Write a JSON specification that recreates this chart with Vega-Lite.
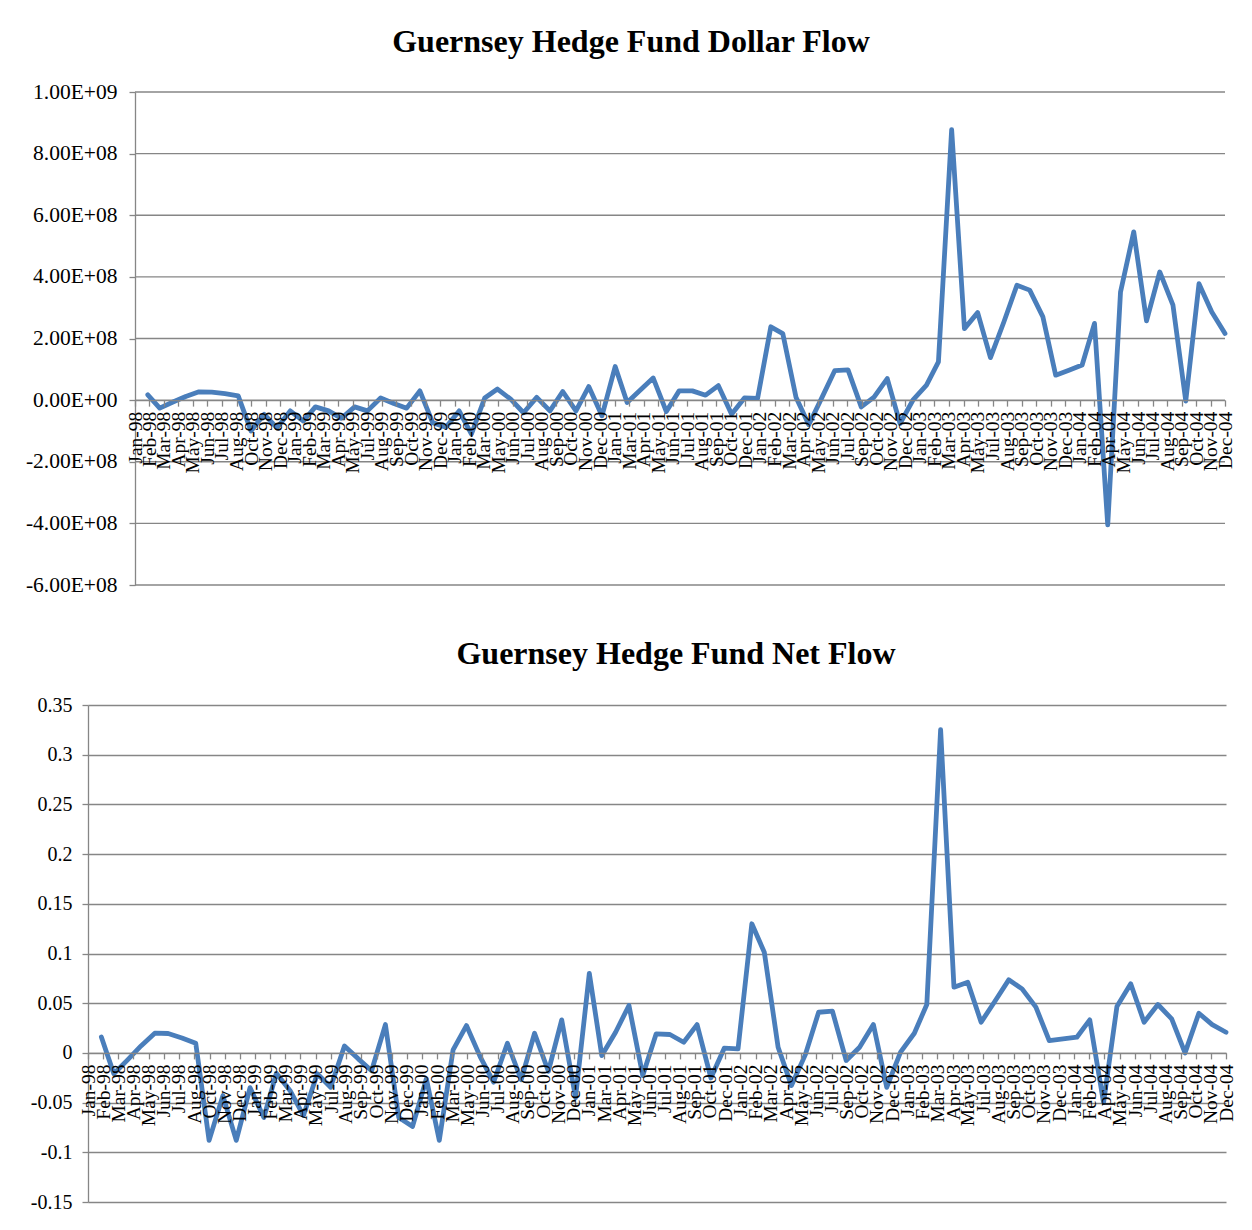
{
"$schema": "https://vega.github.io/schema/vega-lite/v6.json",
"background": "white",
"padding": {"left": 25, "top": 26, "right": 0, "bottom": 0},
"data": {"values": [
{"date":"1998-01-31","dollar":17000000,"net":0.016},
{"date":"1998-02-28","dollar":-26000000,"net":-0.021},
{"date":"1998-03-31","dollar":-6000000,"net":-0.007},
{"date":"1998-04-30","dollar":12000000,"net":0.007},
{"date":"1998-05-31","dollar":27000000,"net":0.0198},
{"date":"1998-06-30","dollar":26000000,"net":0.0195},
{"date":"1998-07-31","dollar":21000000,"net":0.015},
{"date":"1998-08-31","dollar":14000000,"net":0.0097},
{"date":"1998-09-30","dollar":-100000000,"net":-0.088},
{"date":"1998-10-31","dollar":-46000000,"net":-0.043},
{"date":"1998-11-30","dollar":-90000000,"net":-0.088},
{"date":"1998-12-31","dollar":-35000000,"net":-0.035},
{"date":"1999-01-31","dollar":-68000000,"net":-0.065},
{"date":"1999-02-28","dollar":-22000000,"net":-0.0205},
{"date":"1999-03-31","dollar":-35000000,"net":-0.038},
{"date":"1999-04-30","dollar":-59000000,"net":-0.063},
{"date":"1999-05-31","dollar":-22000000,"net":-0.021},
{"date":"1999-06-30","dollar":-35000000,"net":-0.0346},
{"date":"1999-07-31","dollar":7000000,"net":0.007},
{"date":"1999-08-31","dollar":-11000000,"net":-0.006},
{"date":"1999-09-30","dollar":-26000000,"net":-0.018},
{"date":"1999-10-31","dollar":30000000,"net":0.0285},
{"date":"1999-11-30","dollar":-73000000,"net":-0.065},
{"date":"1999-12-31","dollar":-88000000,"net":-0.074},
{"date":"2000-01-31","dollar":-35000000,"net":-0.026},
{"date":"2000-02-29","dollar":-110000000,"net":-0.088},
{"date":"2000-03-31","dollar":7000000,"net":0.003},
{"date":"2000-04-30","dollar":36000000,"net":0.0275},
{"date":"2000-05-31","dollar":3000000,"net":-0.004},
{"date":"2000-06-30","dollar":-41000000,"net":-0.0295},
{"date":"2000-07-31","dollar":9000000,"net":0.0097},
{"date":"2000-08-31","dollar":-35000000,"net":-0.027},
{"date":"2000-09-30","dollar":28000000,"net":0.0198},
{"date":"2000-10-31","dollar":-35000000,"net":-0.0185},
{"date":"2000-11-30","dollar":44000000,"net":0.0332},
{"date":"2000-12-31","dollar":-51000000,"net":-0.045},
{"date":"2001-01-31","dollar":109000000,"net":0.080},
{"date":"2001-02-28","dollar":-8000000,"net":-0.0027},
{"date":"2001-03-31","dollar":33000000,"net":0.0208},
{"date":"2001-04-30","dollar":72000000,"net":0.0477},
{"date":"2001-05-31","dollar":-37000000,"net":-0.0228},
{"date":"2001-06-30","dollar":30000000,"net":0.0191},
{"date":"2001-07-31","dollar":30000000,"net":0.0185},
{"date":"2001-08-31","dollar":16000000,"net":0.0107},
{"date":"2001-09-30","dollar":47000000,"net":0.0285},
{"date":"2001-10-31","dollar":-46000000,"net":-0.0252},
{"date":"2001-11-30","dollar":7000000,"net":0.0047},
{"date":"2001-12-31","dollar":6000000,"net":0.004},
{"date":"2002-01-31","dollar":238000000,"net":0.1299},
{"date":"2002-02-28","dollar":216000000,"net":0.1013},
{"date":"2002-03-31","dollar":9000000,"net":0.0057},
{"date":"2002-04-30","dollar":-80000000,"net":-0.0329},
{"date":"2002-05-31","dollar":9000000,"net":-0.002},
{"date":"2002-06-30","dollar":96000000,"net":0.0409},
{"date":"2002-07-31","dollar":98000000,"net":0.042},
{"date":"2002-08-31","dollar":-22000000,"net":-0.0077},
{"date":"2002-09-30","dollar":10000000,"net":0.0057},
{"date":"2002-10-31","dollar":70000000,"net":0.0285},
{"date":"2002-11-30","dollar":-76000000,"net":-0.0346},
{"date":"2002-12-31","dollar":2000000,"net":0.0007},
{"date":"2003-01-31","dollar":49000000,"net":0.0198},
{"date":"2003-02-28","dollar":124000000,"net":0.0487},
{"date":"2003-03-31","dollar":878000000,"net":0.3252},
{"date":"2003-04-30","dollar":232000000,"net":0.0661},
{"date":"2003-05-31","dollar":284000000,"net":0.0711},
{"date":"2003-06-30","dollar":138000000,"net":0.0309},
{"date":"2003-07-31","dollar":252000000,"net":0.052},
{"date":"2003-08-31","dollar":373000000,"net":0.0735},
{"date":"2003-09-30","dollar":357000000,"net":0.0644},
{"date":"2003-10-31","dollar":270000000,"net":0.046},
{"date":"2003-11-30","dollar":81000000,"net":0.0124},
{"date":"2003-12-31","dollar":97000000,"net":0.0141},
{"date":"2004-01-31","dollar":114000000,"net":0.0158},
{"date":"2004-02-29","dollar":249000000,"net":0.0332},
{"date":"2004-03-31","dollar":-405000000,"net":-0.05},
{"date":"2004-04-30","dollar":351000000,"net":0.0466},
{"date":"2004-05-31","dollar":546000000,"net":0.0695},
{"date":"2004-06-30","dollar":257000000,"net":0.0309},
{"date":"2004-07-31","dollar":416000000,"net":0.0487},
{"date":"2004-08-31","dollar":308000000,"net":0.0342},
{"date":"2004-09-30","dollar":-3000000,"net":0.0},
{"date":"2004-10-31","dollar":378000000,"net":0.0399},
{"date":"2004-11-30","dollar":286000000,"net":0.0285},
{"date":"2004-12-31","dollar":216000000,"net":0.0208}
]},
"spacing": 42,
"vconcat": [
{
"width": 1138, "height": 493,
"title": {"text": "Guernsey Hedge Fund Dollar Flow", "font": "Liberation Serif", "fontSize": 32, "fontWeight": "bold", "color": "black", "anchor": "middle", "frame": "group", "dx": -26, "offset": 22},
"layer": [
{
"data": {"values": [{"g":-600000000},{"g":-400000000},{"g":-200000000},{"g":0},{"g":200000000},{"g":400000000},{"g":600000000},{"g":800000000},{"g":1000000000}]},
"mark": {"type": "rule", "color": "#868686", "strokeWidth": 1.3},
"encoding": {
"y": {"field": "g", "type": "quantitative", "title": null},
"x": {"datum": {"year":1998,"month":1,"date":1,"utc":true}, "type": "temporal", "title": null,
"axis": {"title": null, "labelExpr": "utcFormat(datum.value, '%b-%y')", "offset": -184.875, "zindex": 1, "labelOverlap": false, "labelSeparation": 0, "labelFlush": false, "labelBound": false,
"values": [
{"year":1998,"month":1,"date":1,"utc":true},{"year":1998,"month":2,"date":4,"utc":true},{"year":1998,"month":3,"date":10,"utc":true},{"year":1998,"month":4,"date":13,"utc":true},{"year":1998,"month":5,"date":17,"utc":true},{"year":1998,"month":6,"date":20,"utc":true},{"year":1998,"month":7,"date":24,"utc":true},{"year":1998,"month":8,"date":28,"utc":true},{"year":1998,"month":10,"date":1,"utc":true},{"year":1998,"month":11,"date":4,"utc":true},{"year":1998,"month":12,"date":8,"utc":true},
{"year":1999,"month":1,"date":11,"utc":true},{"year":1999,"month":2,"date":14,"utc":true},{"year":1999,"month":3,"date":20,"utc":true},{"year":1999,"month":4,"date":23,"utc":true},{"year":1999,"month":5,"date":27,"utc":true},{"year":1999,"month":7,"date":1,"utc":true},{"year":1999,"month":8,"date":3,"utc":true},{"year":1999,"month":9,"date":6,"utc":true},{"year":1999,"month":10,"date":11,"utc":true},{"year":1999,"month":11,"date":14,"utc":true},{"year":1999,"month":12,"date":18,"utc":true},
{"year":2000,"month":1,"date":21,"utc":true},{"year":2000,"month":2,"date":24,"utc":true},{"year":2000,"month":3,"date":29,"utc":true},{"year":2000,"month":5,"date":2,"utc":true},{"year":2000,"month":6,"date":5,"utc":true},{"year":2000,"month":7,"date":9,"utc":true},{"year":2000,"month":8,"date":12,"utc":true},{"year":2000,"month":9,"date":15,"utc":true},{"year":2000,"month":10,"date":19,"utc":true},{"year":2000,"month":11,"date":22,"utc":true},{"year":2000,"month":12,"date":27,"utc":true},
{"year":2001,"month":1,"date":30,"utc":true},{"year":2001,"month":3,"date":5,"utc":true},{"year":2001,"month":4,"date":8,"utc":true},{"year":2001,"month":5,"date":12,"utc":true},{"year":2001,"month":6,"date":15,"utc":true},{"year":2001,"month":7,"date":19,"utc":true},{"year":2001,"month":8,"date":22,"utc":true},{"year":2001,"month":9,"date":25,"utc":true},{"year":2001,"month":10,"date":29,"utc":true},{"year":2001,"month":12,"date":2,"utc":true},
{"year":2002,"month":1,"date":5,"utc":true},{"year":2002,"month":2,"date":9,"utc":true},{"year":2002,"month":3,"date":15,"utc":true},{"year":2002,"month":4,"date":18,"utc":true},{"year":2002,"month":5,"date":22,"utc":true},{"year":2002,"month":6,"date":25,"utc":true},{"year":2002,"month":7,"date":29,"utc":true},{"year":2002,"month":9,"date":1,"utc":true},{"year":2002,"month":10,"date":5,"utc":true},{"year":2002,"month":11,"date":8,"utc":true},{"year":2002,"month":12,"date":12,"utc":true},
{"year":2003,"month":1,"date":15,"utc":true},{"year":2003,"month":2,"date":18,"utc":true},{"year":2003,"month":3,"date":24,"utc":true},{"year":2003,"month":4,"date":28,"utc":true},{"year":2003,"month":5,"date":31,"utc":true},{"year":2003,"month":7,"date":5,"utc":true},{"year":2003,"month":8,"date":8,"utc":true},{"year":2003,"month":9,"date":11,"utc":true},{"year":2003,"month":10,"date":15,"utc":true},{"year":2003,"month":11,"date":18,"utc":true},{"year":2003,"month":12,"date":22,"utc":true},
{"year":2004,"month":1,"date":25,"utc":true},{"year":2004,"month":2,"date":28,"utc":true},{"year":2004,"month":4,"date":2,"utc":true},{"year":2004,"month":5,"date":6,"utc":true},{"year":2004,"month":6,"date":10,"utc":true},{"year":2004,"month":7,"date":14,"utc":true},{"year":2004,"month":8,"date":17,"utc":true},{"year":2004,"month":9,"date":20,"utc":true},{"year":2004,"month":10,"date":24,"utc":true},{"year":2004,"month":11,"date":27,"utc":true},{"year":2004,"month":12,"date":31,"utc":true}
]}},
"x2": {"datum": {"year":2004,"month":12,"date":31,"utc":true}}
}
},
{
"mark": {"type": "line", "color": "#4A7EBB", "strokeWidth": 4.8, "strokeJoin": "round", "strokeCap": "round"},
"encoding": {
"x": {"field": "date", "type": "temporal", "title": null,
"scale": {"type": "utc", "domain": [{"year":1998,"month":1,"date":1,"utc":true},{"year":2004,"month":12,"date":31,"utc":true}], "range": [47, 1137]},
"axis": {"title": null, "labelExpr": "utcFormat(datum.value, '%b-%y')", "offset": -184.875, "zindex": 1, "labelOverlap": false, "labelSeparation": 0, "labelFlush": false, "labelBound": false,
"values": [
{"year":1998,"month":1,"date":1,"utc":true},{"year":1998,"month":2,"date":4,"utc":true},{"year":1998,"month":3,"date":10,"utc":true},{"year":1998,"month":4,"date":13,"utc":true},{"year":1998,"month":5,"date":17,"utc":true},{"year":1998,"month":6,"date":20,"utc":true},{"year":1998,"month":7,"date":24,"utc":true},{"year":1998,"month":8,"date":28,"utc":true},{"year":1998,"month":10,"date":1,"utc":true},{"year":1998,"month":11,"date":4,"utc":true},{"year":1998,"month":12,"date":8,"utc":true},
{"year":1999,"month":1,"date":11,"utc":true},{"year":1999,"month":2,"date":14,"utc":true},{"year":1999,"month":3,"date":20,"utc":true},{"year":1999,"month":4,"date":23,"utc":true},{"year":1999,"month":5,"date":27,"utc":true},{"year":1999,"month":7,"date":1,"utc":true},{"year":1999,"month":8,"date":3,"utc":true},{"year":1999,"month":9,"date":6,"utc":true},{"year":1999,"month":10,"date":11,"utc":true},{"year":1999,"month":11,"date":14,"utc":true},{"year":1999,"month":12,"date":18,"utc":true},
{"year":2000,"month":1,"date":21,"utc":true},{"year":2000,"month":2,"date":24,"utc":true},{"year":2000,"month":3,"date":29,"utc":true},{"year":2000,"month":5,"date":2,"utc":true},{"year":2000,"month":6,"date":5,"utc":true},{"year":2000,"month":7,"date":9,"utc":true},{"year":2000,"month":8,"date":12,"utc":true},{"year":2000,"month":9,"date":15,"utc":true},{"year":2000,"month":10,"date":19,"utc":true},{"year":2000,"month":11,"date":22,"utc":true},{"year":2000,"month":12,"date":27,"utc":true},
{"year":2001,"month":1,"date":30,"utc":true},{"year":2001,"month":3,"date":5,"utc":true},{"year":2001,"month":4,"date":8,"utc":true},{"year":2001,"month":5,"date":12,"utc":true},{"year":2001,"month":6,"date":15,"utc":true},{"year":2001,"month":7,"date":19,"utc":true},{"year":2001,"month":8,"date":22,"utc":true},{"year":2001,"month":9,"date":25,"utc":true},{"year":2001,"month":10,"date":29,"utc":true},{"year":2001,"month":12,"date":2,"utc":true},
{"year":2002,"month":1,"date":5,"utc":true},{"year":2002,"month":2,"date":9,"utc":true},{"year":2002,"month":3,"date":15,"utc":true},{"year":2002,"month":4,"date":18,"utc":true},{"year":2002,"month":5,"date":22,"utc":true},{"year":2002,"month":6,"date":25,"utc":true},{"year":2002,"month":7,"date":29,"utc":true},{"year":2002,"month":9,"date":1,"utc":true},{"year":2002,"month":10,"date":5,"utc":true},{"year":2002,"month":11,"date":8,"utc":true},{"year":2002,"month":12,"date":12,"utc":true},
{"year":2003,"month":1,"date":15,"utc":true},{"year":2003,"month":2,"date":18,"utc":true},{"year":2003,"month":3,"date":24,"utc":true},{"year":2003,"month":4,"date":28,"utc":true},{"year":2003,"month":5,"date":31,"utc":true},{"year":2003,"month":7,"date":5,"utc":true},{"year":2003,"month":8,"date":8,"utc":true},{"year":2003,"month":9,"date":11,"utc":true},{"year":2003,"month":10,"date":15,"utc":true},{"year":2003,"month":11,"date":18,"utc":true},{"year":2003,"month":12,"date":22,"utc":true},
{"year":2004,"month":1,"date":25,"utc":true},{"year":2004,"month":2,"date":28,"utc":true},{"year":2004,"month":4,"date":2,"utc":true},{"year":2004,"month":5,"date":6,"utc":true},{"year":2004,"month":6,"date":10,"utc":true},{"year":2004,"month":7,"date":14,"utc":true},{"year":2004,"month":8,"date":17,"utc":true},{"year":2004,"month":9,"date":20,"utc":true},{"year":2004,"month":10,"date":24,"utc":true},{"year":2004,"month":11,"date":27,"utc":true},{"year":2004,"month":12,"date":31,"utc":true}
]}},
"y": {"field": "dollar", "type": "quantitative", "title": null,
"scale": {"domain": [-600000000, 1000000000], "nice": false, "zero": false},
"axis": {"title": null, "grid": false, "offset": -47, "values": [-600000000,-400000000,-200000000,0,200000000,400000000,600000000,800000000,1000000000], "labelExpr": "replace(replace(format(datum.value, '.2e'), 'e+', 'E+0'), '\u2212', '-')", "labelPadding": 12, "labelFontSize": 21.5}}
}
}
]
},
{
"width": 1138, "height": 497,
"title": {"text": "Guernsey Hedge Fund Net Flow", "font": "Liberation Serif", "fontSize": 32, "fontWeight": "bold", "color": "black", "anchor": "middle", "frame": "group", "dx": 19, "offset": 24},
"mark": {"type": "line", "color": "#4A7EBB", "strokeWidth": 4.8, "strokeJoin": "round", "strokeCap": "round"},
"encoding": {
"x": {"field": "date", "type": "temporal",
"scale": {"type": "utc", "domain": [{"year":1998,"month":1,"date":1,"utc":true},{"year":2004,"month":12,"date":31,"utc":true}]},
"axis": {"title": null, "labelExpr": "utcFormat(datum.value, '%b-%y')", "offset": -149.1, "zindex": 1, "labelOverlap": false, "labelSeparation": 0,
"values": [
{"year":1998,"month":1,"date":1,"utc":true},{"year":1998,"month":2,"date":4,"utc":true},{"year":1998,"month":3,"date":10,"utc":true},{"year":1998,"month":4,"date":13,"utc":true},{"year":1998,"month":5,"date":17,"utc":true},{"year":1998,"month":6,"date":20,"utc":true},{"year":1998,"month":7,"date":24,"utc":true},{"year":1998,"month":8,"date":28,"utc":true},{"year":1998,"month":10,"date":1,"utc":true},{"year":1998,"month":11,"date":4,"utc":true},{"year":1998,"month":12,"date":8,"utc":true},
{"year":1999,"month":1,"date":11,"utc":true},{"year":1999,"month":2,"date":14,"utc":true},{"year":1999,"month":3,"date":20,"utc":true},{"year":1999,"month":4,"date":23,"utc":true},{"year":1999,"month":5,"date":27,"utc":true},{"year":1999,"month":7,"date":1,"utc":true},{"year":1999,"month":8,"date":3,"utc":true},{"year":1999,"month":9,"date":6,"utc":true},{"year":1999,"month":10,"date":11,"utc":true},{"year":1999,"month":11,"date":14,"utc":true},{"year":1999,"month":12,"date":18,"utc":true},
{"year":2000,"month":1,"date":21,"utc":true},{"year":2000,"month":2,"date":24,"utc":true},{"year":2000,"month":3,"date":29,"utc":true},{"year":2000,"month":5,"date":2,"utc":true},{"year":2000,"month":6,"date":5,"utc":true},{"year":2000,"month":7,"date":9,"utc":true},{"year":2000,"month":8,"date":12,"utc":true},{"year":2000,"month":9,"date":15,"utc":true},{"year":2000,"month":10,"date":19,"utc":true},{"year":2000,"month":11,"date":22,"utc":true},{"year":2000,"month":12,"date":27,"utc":true},
{"year":2001,"month":1,"date":30,"utc":true},{"year":2001,"month":3,"date":5,"utc":true},{"year":2001,"month":4,"date":8,"utc":true},{"year":2001,"month":5,"date":12,"utc":true},{"year":2001,"month":6,"date":15,"utc":true},{"year":2001,"month":7,"date":19,"utc":true},{"year":2001,"month":8,"date":22,"utc":true},{"year":2001,"month":9,"date":25,"utc":true},{"year":2001,"month":10,"date":29,"utc":true},{"year":2001,"month":12,"date":2,"utc":true},
{"year":2002,"month":1,"date":5,"utc":true},{"year":2002,"month":2,"date":9,"utc":true},{"year":2002,"month":3,"date":15,"utc":true},{"year":2002,"month":4,"date":18,"utc":true},{"year":2002,"month":5,"date":22,"utc":true},{"year":2002,"month":6,"date":25,"utc":true},{"year":2002,"month":7,"date":29,"utc":true},{"year":2002,"month":9,"date":1,"utc":true},{"year":2002,"month":10,"date":5,"utc":true},{"year":2002,"month":11,"date":8,"utc":true},{"year":2002,"month":12,"date":12,"utc":true},
{"year":2003,"month":1,"date":15,"utc":true},{"year":2003,"month":2,"date":18,"utc":true},{"year":2003,"month":3,"date":24,"utc":true},{"year":2003,"month":4,"date":28,"utc":true},{"year":2003,"month":5,"date":31,"utc":true},{"year":2003,"month":7,"date":5,"utc":true},{"year":2003,"month":8,"date":8,"utc":true},{"year":2003,"month":9,"date":11,"utc":true},{"year":2003,"month":10,"date":15,"utc":true},{"year":2003,"month":11,"date":18,"utc":true},{"year":2003,"month":12,"date":22,"utc":true},
{"year":2004,"month":1,"date":25,"utc":true},{"year":2004,"month":2,"date":28,"utc":true},{"year":2004,"month":4,"date":2,"utc":true},{"year":2004,"month":5,"date":6,"utc":true},{"year":2004,"month":6,"date":10,"utc":true},{"year":2004,"month":7,"date":14,"utc":true},{"year":2004,"month":8,"date":17,"utc":true},{"year":2004,"month":9,"date":20,"utc":true},{"year":2004,"month":10,"date":24,"utc":true},{"year":2004,"month":11,"date":27,"utc":true},{"year":2004,"month":12,"date":31,"utc":true}
]}},
"y": {"field": "net", "type": "quantitative",
"scale": {"domain": [-0.15, 0.35], "nice": false, "zero": false},
"axis": {"title": null, "grid": true, "values": [-0.15,-0.1,-0.05,0,0.05,0.1,0.15,0.2,0.25,0.3,0.35], "labelExpr": "'' + datum.value", "labelPadding": 10}}
}
}
],
"config": {
"view": {"stroke": null},
"font": "Liberation Serif",
"axis": {"labelFont": "Liberation Serif", "labelColor": "black", "domainColor": "#868686", "domainWidth": 1.3, "tickColor": "#868686", "tickWidth": 1.3, "tickSize": 6, "gridColor": "#868686", "gridWidth": 1.3, "gridOpacity": 1, "labelOverlap": false, "labelFlush": false},
"axisX": {"grid": false, "labelAngle": -90, "labelFontSize": 19.5, "labelPadding": 5, "labelAlign": "right", "labelBaseline": "middle"},
"axisY": {"labelFontSize": 20}
}
}
